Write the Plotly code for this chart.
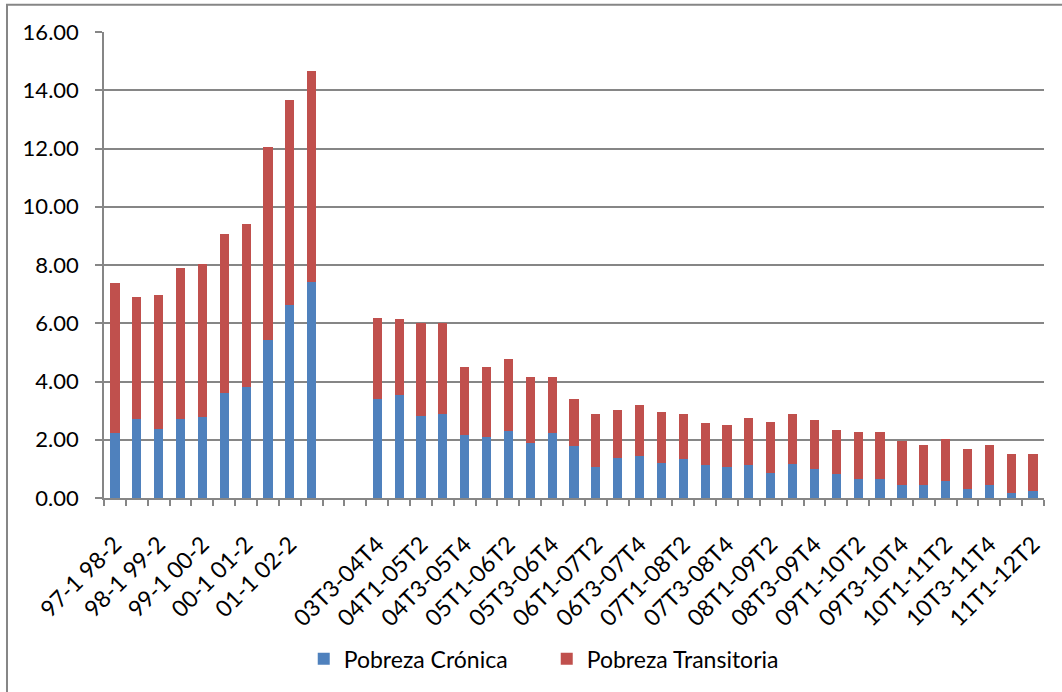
import plotly.graph_objects as go

periods = [
    "97-1 98-2", "97-2 99-1", "98-1 99-2", "98-2 00-1", "99-1 00-2",
    "99-2 01-1", "00-1 01-2", "00-2 02-1", "01-1 02-2", "01-2 03-1",
    " ", "  ",
    "03T3-04T4", "03T4-05T1", "04T1-05T2", "04T2-05T3", "04T3-05T4", "04T4-06T1",
    "05T1-06T2", "05T2-06T3", "05T3-06T4", "05T4-07T1",
    "06T1-07T2", "06T2-07T3", "06T3-07T4", "06T4-08T1",
    "07T1-08T2", "07T2-08T3", "07T3-08T4", "07T4-09T1",
    "08T1-09T2", "08T2-09T3", "08T3-09T4", "08T4-10T1",
    "09T1-10T2", "09T2-10T3", "09T3-10T4", "09T4-11T1",
    "10T1-11T2", "10T2-11T3", "10T3-11T4", "10T4-12T1",
    "11T1-12T2",
]

pobreza_cronica = [
    2.22, 2.70, 2.36, 2.70, 2.77, 3.60, 3.81, 5.42, 6.64, 7.43,
    None, None,
    3.41, 3.55, 2.83, 2.90, 2.18, 2.11, 2.29, 1.90, 2.23, 1.77,
    1.05, 1.38, 1.45, 1.19, 1.33, 1.12, 1.05, 1.12, 0.85, 1.18,
    0.98, 0.84, 0.64, 0.64, 0.45, 0.45, 0.58, 0.32, 0.45, 0.18, 0.25,
]

pobreza_transitoria = [
    5.15, 4.21, 4.62, 5.19, 5.25, 5.47, 5.60, 6.63, 7.04, 7.23,
    None, None,
    2.78, 2.58, 3.18, 3.11, 2.31, 2.38, 2.47, 2.27, 1.94, 1.64,
    1.84, 1.63, 1.76, 1.76, 1.56, 1.44, 1.44, 1.63, 1.77, 1.69,
    1.69, 1.50, 1.64, 1.64, 1.50, 1.37, 1.44, 1.37, 1.37, 1.33, 1.26,
]

series_names = ["Pobreza Crónica", "Pobreza Transitoria"]
title_text = "Componentes de la pobreza (crónica y transitoria)"

tick_text = [p if i % 2 == 0 else "" for i, p in enumerate(periods)]

BLUE = "#4F81BD"
RED = "#C0504D"
GRID = "#868686"
FONT = "Lato"

fig = go.Figure()
fig.add_trace(go.Bar(x=periods, y=pobreza_cronica, name=series_names[0],
                     marker=dict(color=BLUE, line=dict(width=0))))
fig.add_trace(go.Bar(x=periods, y=pobreza_transitoria, name=series_names[1],
                     marker=dict(color=RED, line=dict(width=0))))

fig.update_layout(
    barmode="stack",
    bargap=0.58,
    width=1062, height=692,
    margin=dict(l=104, r=18, t=32, b=189, pad=0),
    paper_bgcolor="white",
    plot_bgcolor="white",
    font=dict(family=FONT, size=21, color="black"),
    showlegend=True,
    legend=dict(orientation="h", x=0.471, xanchor="center", y=-0.345, yanchor="middle",
                font=dict(family=FONT, size=23, color="black"),
                itemwidth=30, entrywidth=198, entrywidthmode="pixels",
                traceorder="normal", bgcolor="rgba(0,0,0,0)"),
    xaxis=dict(
        type="category",
        categoryorder="array", categoryarray=periods,
        tickmode="array", tickvals=periods, ticktext=tick_text,
        tickangle=-45,
        tickson="boundaries",
        ticks="outside", ticklen=6, tickwidth=1.5, tickcolor=GRID,
        showline=True, linecolor=GRID, linewidth=1.5,
        showgrid=False,
        tickfont=dict(family=FONT, size=23, color="black"),
        ticklabelstandoff=22,
    ),
    yaxis=dict(
        range=[0, 16], dtick=2, tickformat=".2f",
        ticks="outside", ticklen=7, tickwidth=1.5, tickcolor=GRID,
        showline=True, linecolor=GRID, linewidth=1.5,
        showgrid=True, gridcolor=GRID, gridwidth=1.5,
        zeroline=False,
        tickfont=dict(family=FONT, size=22, color="black"),
        ticklabelstandoff=12,
    ),
    shapes=[dict(type="rect", xref="paper", yref="paper",
                 x0=-0.1032, x1=1.2, y0=-0.7, y1=1.0584,
                 line=dict(color=GRID, width=2), layer="below")],
    annotations=[dict(text="<b>" + title_text + "</b>", xref="paper", yref="paper",
                      x=0.455, y=1.065, xanchor="center", yanchor="bottom",
                      showarrow=False,
                      font=dict(family="Liberation Serif", size=22, color="black"))],
)

fig.write_html("out.html", config={"displayModeBar": False},
               post_script="document.body.style.margin='0px';")
